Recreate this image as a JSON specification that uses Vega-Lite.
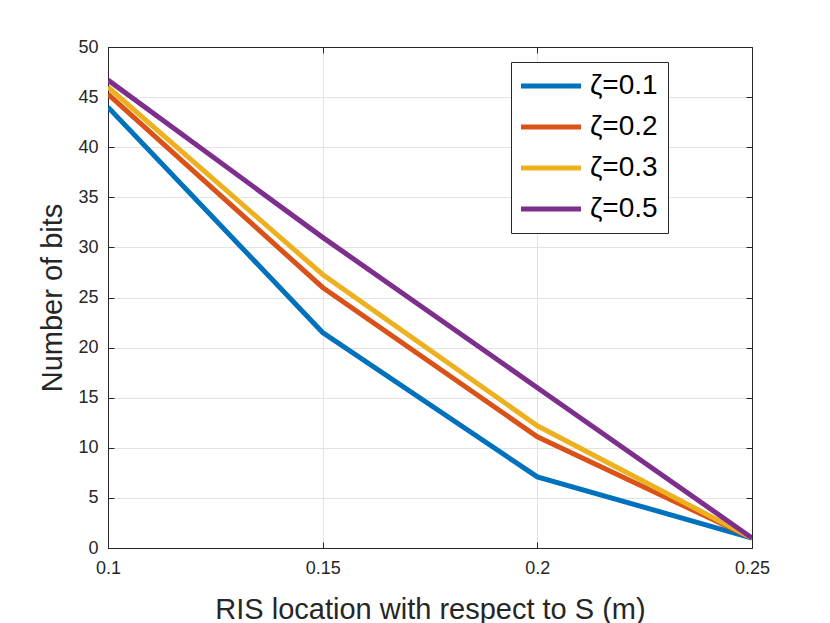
{
  "$schema": "https://vega.github.io/schema/vega-lite/v6.json",
  "width": 644,
  "height": 501,
  "autosize": {"type": "none"},
  "padding": {"left": 108, "top": 47, "right": 78, "bottom": 75},
  "background": "#ffffff",
  "config": {
    "view": {"fill": "#ffffff", "stroke": "#262626", "strokeWidth": 1},
    "axis": {
      "labelFlush": false,
      "titleFontWeight": "normal",
      "titleFont": "Liberation Sans",
      "titleFontSize": 29,
      "titleColor": "#262626",
      "labelFont": "Liberation Sans",
      "labelFontSize": 18,
      "labelColor": "#262626",
      "tickSize": -6,
      "tickColor": "#262626",
      "domainColor": "#262626",
      "gridColor": "#e3e3e3"
    }
  },
  "data": {
    "values": [
      {"loc": 0.1, "bits": 44.0, "series": "ζ=0.1"},
      {"loc": 0.15, "bits": 21.5, "series": "ζ=0.1"},
      {"loc": 0.2, "bits": 7.1, "series": "ζ=0.1"},
      {"loc": 0.25, "bits": 1.0, "series": "ζ=0.1"},
      {"loc": 0.1, "bits": 45.3, "series": "ζ=0.2"},
      {"loc": 0.15, "bits": 26.0, "series": "ζ=0.2"},
      {"loc": 0.2, "bits": 11.1, "series": "ζ=0.2"},
      {"loc": 0.25, "bits": 1.0, "series": "ζ=0.2"},
      {"loc": 0.1, "bits": 46.0, "series": "ζ=0.3"},
      {"loc": 0.15, "bits": 27.3, "series": "ζ=0.3"},
      {"loc": 0.2, "bits": 12.2, "series": "ζ=0.3"},
      {"loc": 0.25, "bits": 1.0, "series": "ζ=0.3"},
      {"loc": 0.1, "bits": 46.7, "series": "ζ=0.5"},
      {"loc": 0.15, "bits": 31.0, "series": "ζ=0.5"},
      {"loc": 0.2, "bits": 16.0, "series": "ζ=0.5"},
      {"loc": 0.25, "bits": 1.0, "series": "ζ=0.5"}
    ]
  },
  "layer": [
    {
      "mark": {"type": "line", "strokeWidth": 5, "strokeJoin": "miter", "clip": true},
      "encoding": {
        "x": {
          "field": "loc",
          "type": "quantitative",
          "scale": {"domain": [0.1, 0.25], "nice": false, "zero": false},
          "axis": {
            "title": "RIS location with respect to S (m)",
            "orient": "bottom",
            "values": [0.1, 0.15, 0.2, 0.25],
            "labelExpr": "datum.value == 0.1 ? '0.1' : datum.value == 0.2 ? '0.2' : format(datum.value, '.2f')",
            "titlePadding": 18,
            "labelPadding": 17,
            "grid": true
          }
        },
        "y": {
          "field": "bits",
          "type": "quantitative",
          "scale": {"domain": [0, 50], "nice": false},
          "axis": {
            "title": "Number of bits",
            "orient": "left",
            "values": [0, 5, 10, 15, 20, 25, 30, 35, 40, 45, 50],
            "titlePadding": 10,
            "labelPadding": 16,
            "grid": true
          }
        },
        "color": {
          "field": "series",
          "type": "nominal",
          "scale": {
            "domain": ["ζ=0.1", "ζ=0.2", "ζ=0.3", "ζ=0.5"],
            "range": ["#0072BD", "#D95319", "#EDB120", "#7E2F8E"]
          },
          "legend": {
            "title": null,
            "orient": "none",
            "legendX": 403,
            "legendY": 15,
            "symbolType": "M-1.4,0H4.6",
            "symbolSize": 400,
            "symbolStrokeWidth": 5,
            "labelFont": "Liberation Sans",
            "labelFontSize": 28,
            "labelColor": "#000000",
            "labelOffset": 41,
            "rowPadding": 13,
            "padding": 10,
            "strokeColor": "#262626",
            "fillColor": "#ffffff"
          }
        }
      }
    },
    {
      "mark": {"type": "point", "opacity": 0},
      "encoding": {
        "x": {
          "field": "loc",
          "type": "quantitative",
          "scale": {"domain": [0.1, 0.25], "nice": false, "zero": false},
          "axis": {
            "title": null,
            "orient": "top",
            "values": [0.1, 0.15, 0.2, 0.25],
            "labels": false,
            "grid": false
          }
        },
        "y": {
          "field": "bits",
          "type": "quantitative",
          "scale": {"domain": [0, 50], "nice": false},
          "axis": {
            "title": null,
            "orient": "right",
            "values": [0, 5, 10, 15, 20, 25, 30, 35, 40, 45, 50],
            "labels": false,
            "grid": false
          }
        }
      }
    }
  ],
  "resolve": {"axis": {"x": "independent", "y": "independent"}}
}
